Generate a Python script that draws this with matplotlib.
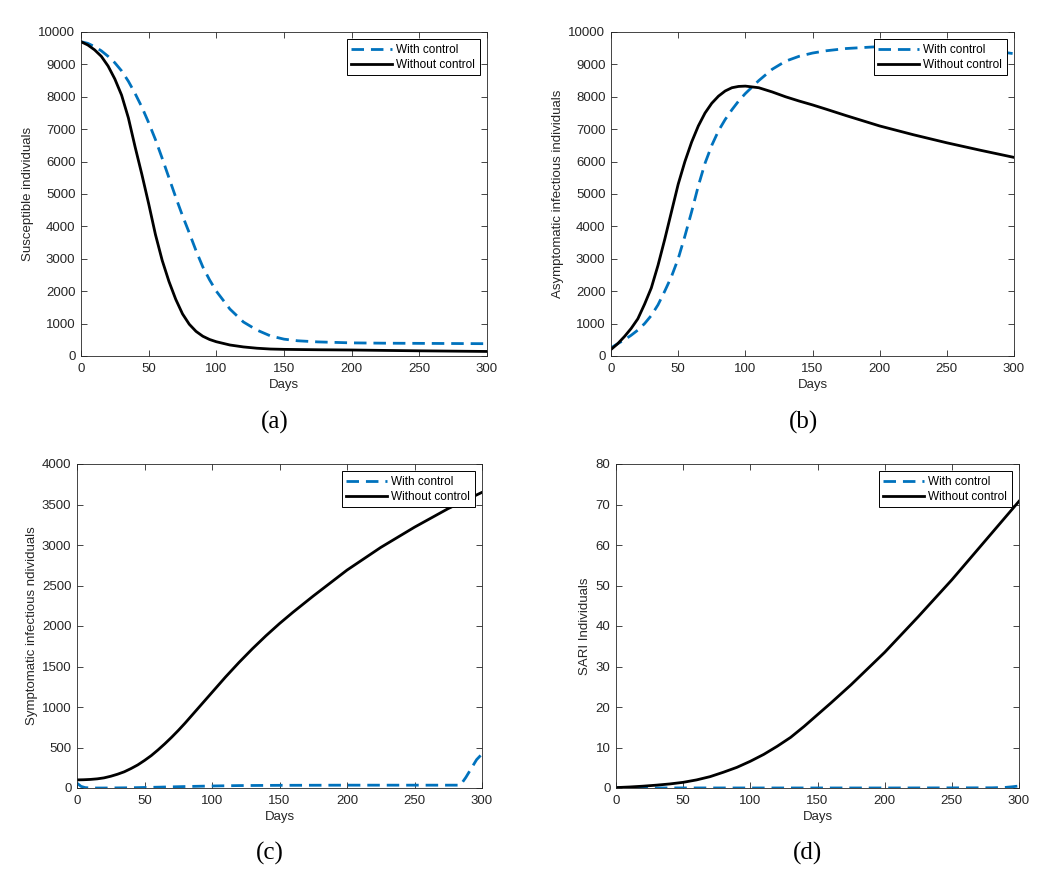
import matplotlib
matplotlib.use('Agg')
import matplotlib.pyplot as plt

# ==========================================
# DATI
# ==========================================
days = [0, 5, 10, 15, 20, 25, 30, 35, 40, 45, 50, 55, 60, 65, 70, 75, 80, 85, 90, 95, 100,
        110, 120, 130, 140, 150, 160, 175, 200, 225, 250, 275, 300]

# (a) Susceptible
S_with = [9700, 9650, 9550, 9420, 9250, 9050, 8800, 8480, 8100, 7680, 7200, 6680, 6100, 5500, 4900,
          4330, 3800, 3250, 2750, 2350, 2000, 1450, 1050, 800, 620, 520, 470, 435, 405, 395, 390, 385, 380]
S_without = [9700, 9600, 9450, 9250, 8950, 8550, 8050, 7350, 6450, 5600, 4700, 3750, 2950, 2300, 1750,
             1300, 980, 760, 610, 510, 440, 340, 280, 240, 215, 205, 200, 193, 185, 172, 160, 150, 140]

# (b) Asymptomatic
A_with = [250, 380, 500, 640, 800, 1000, 1250, 1580, 2000, 2450, 3000, 3700, 4450, 5250, 5950,
          6500, 6950, 7300, 7600, 7870, 8100, 8500, 8850, 9100, 9250, 9350, 9420, 9490, 9550, 9560,
          9540, 9470, 9330]
A_without = [200, 380, 600, 850, 1150, 1600, 2100, 2800, 3600, 4450, 5300, 6000, 6600, 7100, 7500,
             7800, 8020, 8180, 8280, 8320, 8330, 8280, 8150, 8000, 7870, 7750, 7620, 7420, 7100, 6830,
             6580, 6350, 6130]

# (c) Symptomatic
I_without = [100, 102, 106, 113, 125, 145, 170, 200, 240, 285, 340, 400, 470, 545, 625, 710, 800,
             895, 990, 1085, 1180, 1370, 1550, 1720, 1880, 2030, 2170, 2370, 2690, 2970, 3220, 3450, 3650]
days_I_with = [0, 3, 6, 10, 20, 40, 60, 80, 100, 120, 150, 200, 250, 284, 288, 292, 296, 300]
I_with = [60, 20, 5, 0, 0, 3, 10, 18, 25, 30, 33, 35, 35, 35, 130, 240, 350, 420]

# (d) SARI
days_H = [0, 10, 20, 30, 40, 50, 60, 70, 80, 90, 100, 110, 120, 130, 140, 150, 160, 175, 200,
          225, 250, 275, 300]
H_without = [0.1, 0.25, 0.45, 0.7, 1.0, 1.4, 2.0, 2.8, 3.9, 5.1, 6.6, 8.3, 10.3, 12.5, 15.2, 18.1,
             21.0, 25.5, 33.5, 42.3, 51.4, 61.1, 70.8]
days_H_with = [0, 30, 100, 200, 280, 290, 295, 300]
H_with = [0.05, 0.02, 0.01, 0.01, 0.05, 0.15, 0.3, 0.5]

ylabels = ['Susceptible individuals', 'Asymptomatic infectious individuals',
           'Symptomatic infectious ndividuals', 'SARI Individuals']
captions = ['(a)', '(b)', '(c)', '(d)']

# ==========================================
# CONFIGURAZIONE
# ==========================================
W, H = 1063, 885
BLUE = '#0072BD'
GREY = '#262626'

plt.rcParams['font.family'] = ['Liberation Sans', 'DejaVu Sans']

fig = plt.figure(figsize=(W / 100, H / 100), dpi=100)

# box degli assi in pixel: (sinistra, alto, destra, basso)
boxes = [(81, 32, 487, 356), (611, 32, 1014, 356),
         (77, 464, 482, 788), (616, 464, 1019, 788)]
cap_pos = [(275, 422), (803, 422), (270, 853), (808, 853)]

series = [
    (days, S_with, days, S_without, (0, 10000), range(0, 10001, 1000)),
    (days, A_with, days, A_without, (0, 10000), range(0, 10001, 1000)),
    (days_I_with, I_with, days, I_without, (0, 4000), range(0, 4001, 500)),
    (days_H_with, H_with, days_H, H_without, (0, 80), range(0, 81, 10)),
]

for k, (xw, yw, xn, yn, ylim, yticks) in enumerate(series):
    l, t, r, b = boxes[k]
    ax = fig.add_axes([l / W, 1 - b / H, (r - l) / W, (b - t) / H])
    ax.plot(xw, yw, color=BLUE, lw=2.0, dashes=(4.5, 2.5), label='With control')
    ax.plot(xn, yn, color='black', lw=2.0, label='Without control')
    ax.set_xlim(0, 300)
    ax.set_ylim(*ylim)
    ax.set_xticks(range(0, 301, 50))
    ax.set_yticks(list(yticks))
    ax.set_xlabel('Days', fontsize=9.5, color=GREY, labelpad=3)
    ax.set_ylabel(ylabels[k], fontsize=9.5, color=GREY, labelpad=3)
    ax.tick_params(direction='in', top=True, right=True, length=4, width=0.6,
                   labelsize=9.5, colors=GREY)
    ax.tick_params(axis='x', pad=5)
    ax.tick_params(axis='y', pad=4)
    for sp in ax.spines.values():
        sp.set_edgecolor(GREY)
        sp.set_linewidth(0.6)
    leg = ax.legend(loc='upper right', fontsize=8.5, frameon=True, fancybox=False,
                    framealpha=1, handlelength=3.4, labelspacing=0.25, borderpad=0.4,
                    handletextpad=0.4, borderaxespad=0.6)
    leg.get_frame().set_edgecolor('black')
    leg.get_frame().set_linewidth(0.7)

    cx, cy = cap_pos[k]
    fig.text(cx / W, 1 - cy / H, captions[k], ha='center', va='center',
             fontsize=18, family='Liberation Serif')

fig.savefig('out.png', dpi=100)
